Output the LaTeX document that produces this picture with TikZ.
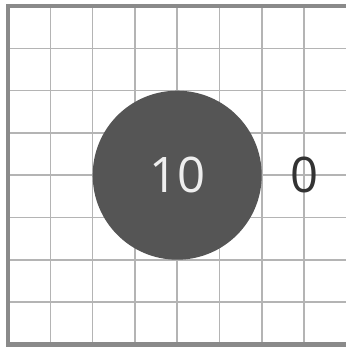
\documentclass[tikz,border=0pt]{standalone}
\usepackage{fontspec}
\setmainfont{Open Sans}
\definecolor{gridc}{HTML}{B4B4B4}
\definecolor{framec}{HTML}{8A8A8A}
\definecolor{discc}{HTML}{555555}
\definecolor{numc}{HTML}{333333}
\definecolor{lightc}{HTML}{EEEEEE}
\tikzset{
  gridline/.style={draw=gridc, line width=1.5pt},
  frameline/.style={draw=framec, line width=4.2pt},
  disc/.style={circle, fill=discc, minimum size=169pt, inner sep=0pt},
  numtext/.style={font=\fontsize{49}{49}\selectfont, inner sep=0pt}
}
\begin{document}
\begin{tikzpicture}[x=1pt,y=-1pt]
\useasboundingbox (0,0) rectangle (345,347);
\fill[white] (0,0) rectangle (345,347);
\foreach \k in {1,...,7} {
  \draw[gridline] ({8+\k*42.3},6) -- ({8+\k*42.3},344.5);
  \draw[gridline] (8,{6+\k*42.3}) -- (346.5,{6+\k*42.3});
}
\draw[frameline] (350,6) -- (8,6) -- (8,344.5) -- (350,344.5);
\node[disc] (c) at (177.2,175.2) {};
\node[numtext, text=lightc] (ten) at (c) {10};
\node[numtext, text=numc] (zero) at (304.6,175.2) {0};
\end{tikzpicture}
\end{document}
